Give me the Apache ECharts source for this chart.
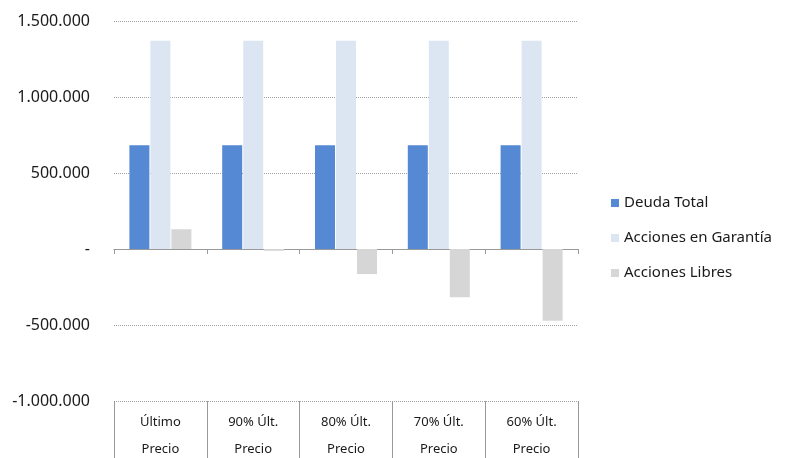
<!DOCTYPE html>
<html>
<head>
<meta charset="utf-8">
<script src="https://cdn.jsdelivr.net/npm/echarts@6/dist/echarts.min.js"></script>
<style>html,body{margin:0;padding:0;background:#fff;}#c{width:792px;height:458px;}</style>
</head>
<body>
<div id="c"></div>
<script>
const categories = ['Último\nPrecio', '90% Últ.\nPrecio', '80% Últ.\nPrecio', '70% Últ.\nPrecio', '60% Últ.\nPrecio'];
const deudaTotal = [683000, 683000, 683000, 683000, 683000];
const accionesGarantia = [1370000, 1370000, 1370000, 1370000, 1370000];
const accionesLibres = [130000, -12000, -165000, -318000, -472000];
const seriesNames = ['Deuda Total', 'Acciones en Garantía', 'Acciones Libres'];

function fmt(v) {
  if (v === 0) return '-';
  const s = Math.abs(v).toString().replace(/\B(?=(\d{3})+(?!\d))/g, '.');
  return (v < 0 ? '-' : '') + s;
}

const chart = echarts.init(document.getElementById('c'));
chart.setOption({
  animation: false,
  textStyle: { fontFamily: 'Noto Sans' },
  grid: { left: 114, right: 214, top: 21, bottom: 57, outerBoundsMode: 'none', containLabel: false },
  legend: {
    orient: 'vertical',
    left: 606,
    top: 190,
    itemWidth: 8,
    itemHeight: 8,
    itemGap: 19,
    icon: 'rect',
    textStyle: { fontSize: 15, color: '#1a1a1a', lineHeight: 16, fontFamily: 'Noto Sans' },
    data: seriesNames
  },
  xAxis: [
    {
      type: 'category',
      data: categories,
      position: 'bottom',
      axisLine: { onZero: true, lineStyle: { color: '#999', width: 1 } },
      axisTick: { show: true, length: 5, lineStyle: { color: '#999' } },
      axisLabel: { show: false }
    },
    {
      type: 'category',
      data: categories,
      position: 'bottom',
      axisLine: { show: false, onZero: false },
      axisTick: { show: true, length: 57, lineStyle: { color: '#999' } },
      axisLabel: { show: true, margin: 8, fontSize: 13, lineHeight: 27, color: '#1a1a1a', fontFamily: 'Noto Sans' }
    }
  ],
  yAxis: {
    type: 'value',
    min: -1000000,
    max: 1500000,
    interval: 500000,
    axisLine: { show: false },
    axisTick: { show: false },
    axisLabel: { formatter: fmt, fontSize: 16, color: '#1a1a1a', margin: 24, fontFamily: 'Noto Sans' },
    splitLine: { lineStyle: { type: 'dotted', color: '#a0a0a0', width: 1 } }
  },
  series: [
    { name: seriesNames[0], type: 'bar', data: deudaTotal, barWidth: 20, barGap: '5%', itemStyle: { color: '#5589d3' } },
    { name: seriesNames[1], type: 'bar', data: accionesGarantia, barWidth: 20, barGap: '5%', itemStyle: { color: '#dce6f2' } },
    { name: seriesNames[2], type: 'bar', data: accionesLibres, barWidth: 20, barGap: '5%', itemStyle: { color: '#d6d6d6' } }
  ]
});
</script>
</body>
</html>
